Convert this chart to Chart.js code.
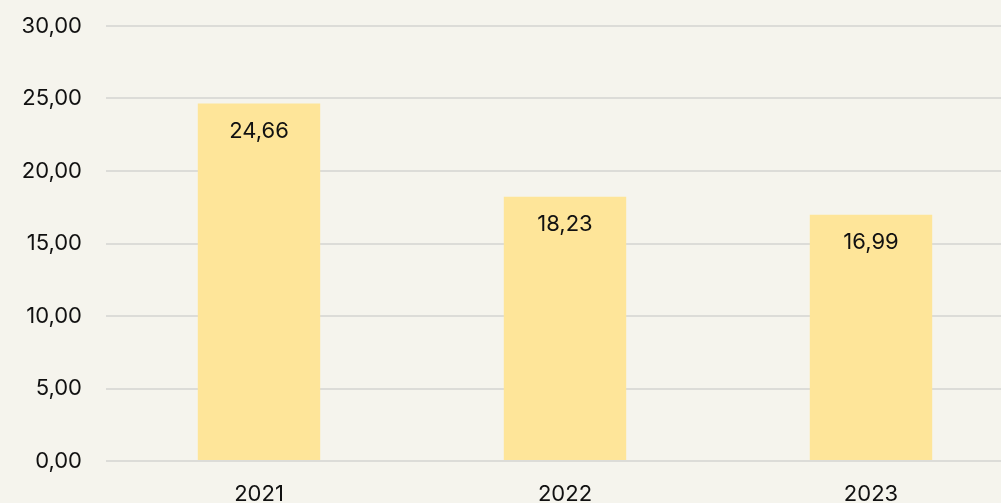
<!DOCTYPE html>
<html>
<head>
<meta charset="utf-8">
<script src="https://cdn.jsdelivr.net/npm/chart.js@4"></script>
<style>
  html, body { margin: 0; padding: 0; background: #f5f4ed; overflow: hidden; }
  #wrap { width: 1024px; height: 503px; position: relative; }
</style>
</head>
<body>
<div id="wrap"><canvas id="chart"></canvas></div>
<script>
const years = ["2021", "2022", "2023"];
const values = [24.66, 18.23, 16.99];
const yTicks = [0, 5, 10, 15, 20, 25, 30];

const fmt = (v) => v.toFixed(2).replace(".", ",");

// draw the value inside each bar, near its top
const barLabels = {
  id: "barLabels",
  afterDatasetsDraw(chart) {
    const { ctx } = chart;
    const meta = chart.getDatasetMeta(0);
    ctx.save();
    ctx.font = "22px Inter";
    ctx.fillStyle = "#111111";
    ctx.textAlign = "center";
    ctx.textBaseline = "middle";
    meta.data.forEach((bar, i) => {
      ctx.fillText(fmt(values[i]), bar.x, bar.y + 28);
    });
    ctx.restore();
  },
};

Chart.defaults.font.family = "Inter";
Chart.defaults.font.size = 22;
Chart.defaults.color = "#111111";

new Chart(document.getElementById("chart"), {
  type: "bar",
  data: {
    labels: years,
    datasets: [
      {
        data: values,
        backgroundColor: "#fee599",
        barPercentage: 0.4,
        categoryPercentage: 1,
      },
    ],
  },
  options: {
    responsive: true,
    maintainAspectRatio: false,
    animation: false,
    layout: { padding: { top: 26, right: 0, left: 0, bottom: 0 } },
    plugins: { legend: { display: false }, tooltip: { enabled: false } },
    scales: {
      x: {
        grid: { display: false },
        border: { display: false },
        ticks: { padding: 12 },
        afterFit: (s) => { s.height = 42; },
      },
      y: {
        min: 0,
        max: 30,
        afterBuildTicks: (s) => { s.ticks = yTicks.map((v) => ({ value: v })); },
        grid: { color: "#dcdcd8", lineWidth: 2, drawTicks: false },
        border: { display: false },
        ticks: { padding: 24, callback: (v) => fmt(v) },
        afterFit: (s) => {
          s.width = 106;
          s.paddingTop = 0;
          s.paddingBottom = 0;
        },
      },
    },
  },
  plugins: [barLabels],
});
</script>
</body>
</html>
